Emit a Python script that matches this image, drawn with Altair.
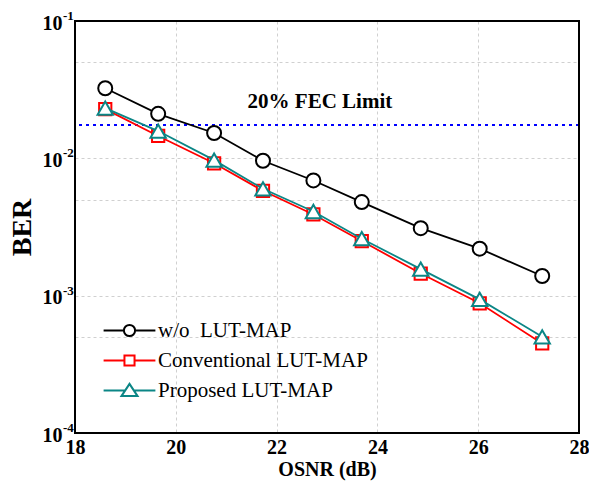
import altair as alt
import pandas as pd

# ---------------- data ----------------
osnr = [18.6, 19.65, 20.76, 21.73, 22.73, 23.69, 24.86, 26.03, 27.27]
ber_wo = [0.0324, 0.0211, 0.0153, 0.0096, 0.0069, 0.0048, 0.0031, 0.0022, 0.00139]
ber_conv = [0.0228, 0.01455, 0.0092, 0.0058, 0.0039, 0.0025, 0.00145, 0.00088, 0.000449]
ber_prop = [0.0232, 0.0158, 0.0097, 0.0060, 0.0041, 0.0026, 0.00156, 0.00094, 0.000502]
series_names = ["w/o\u00a0 LUT-MAP", "Conventional LUT-MAP", "Proposed LUT-MAP"]

fec_level = [0.0175]
fec_label = ["20% FEC Limit"]
fec_label_x = [22.86]
fec_label_y = [0.0257]

x_ticks = [18, 20, 22, 24, 26, 28]
y_decades = [0.1, 0.01, 0.001, 0.0001]
y_exps = ["-1", "-2", "-3", "-4"]
y_grid = [0.0001, 0.0005, 0.001, 0.005, 0.01, 0.05, 0.1]

# ---------------- styles ----------------
colors = ["#000000", "#ff0000", "#0b8686"]
shapes = ["circle", "square", "triangle-up"]
sizes = [196, 150, 235]
legend_paths = [
    "M-3.7,0H-0.8M0.8,0H3.7M0.8,0A0.8,0.8,0,1,1,-0.8,0A0.8,0.8,0,1,1,0.8,0Z",
    "M-3.7,0H-0.72M0.72,0H3.7M-0.72,-0.72H0.72V0.72H-0.72Z",
    "M-3.7,0H-0.62M0.62,0H3.7M0,-0.95L1.15,0.8L-1.15,0.8Z",
]
FONT = "Liberation Serif"

rows = []
for name, vals in zip(series_names, [ber_wo, ber_conv, ber_prop]):
    for xv, yv in zip(osnr, vals):
        rows.append({"osnr": xv, "ber": yv, "series": name})
df = pd.DataFrame(rows)

x_enc = alt.X(
    "osnr:Q",
    scale=alt.Scale(domain=[18, 28], nice=False),
    axis=alt.Axis(values=x_ticks, title="OSNR (dB)", grid=True, format="d",
                  labelPadding=4, titlePadding=2, titleFontSize=20,
                  labelFlush=False, labelOverlap=False),
)
y_enc = alt.Y(
    "ber:Q",
    scale=alt.Scale(type="log", domain=[0.0001, 0.1], nice=False),
    axis=alt.Axis(
        values=y_grid,
        labelExpr="abs(log(datum.value)/LN10 - round(log(datum.value)/LN10)) < 1e-6 ? '10' : ''",
        title="BER", grid=True, labelPadding=13, labelOffset=2,
        titleFontSize=28, titlePadding=6, labelFlush=False, labelOverlap=False,
    ),
)

layers = []
for name, c, shp, sz in zip(series_names, colors, shapes, sizes):
    sub = alt.Chart(df).transform_filter(alt.datum.series == name)
    layers.append(sub.mark_line(color=c, strokeWidth=1.8).encode(x=x_enc, y=y_enc))
    layers.append(
        sub.mark_point(shape=shp, size=sz, filled=True, fill="white", stroke=c,
                       strokeWidth=2, opacity=1).encode(x=x_enc, y=y_enc)
    )

# FEC line and label
fec_df = pd.DataFrame({"ber": fec_level})
fec_rule = alt.Chart(fec_df).mark_rule(color="#0000ff", strokeDash=[3, 4], strokeWidth=2).encode(y=y_enc)
fec_txt_df = pd.DataFrame({"osnr": fec_label_x, "ber": fec_label_y, "t": fec_label})
fec_text = alt.Chart(fec_txt_df).mark_text(
    font=FONT, fontSize=21, fontWeight="bold", align="center", baseline="middle", color="black"
).encode(x=x_enc, y=y_enc, text="t:N")

# exponents of y tick labels
exp_df = pd.DataFrame({"osnr": [x_ticks[0]] * len(y_decades), "ber": y_decades, "t": y_exps})
exp_text = alt.Chart(exp_df).mark_text(
    font=FONT, fontSize=13, fontWeight="bold", align="left", baseline="middle",
    dx=-12, dy=-5, color="black",
).encode(x=x_enc, y=y_enc, text="t:N")

# plot frame drawn on top of the grid
frame = alt.Chart(exp_df.head(1)).mark_rect(
    filled=False, stroke="black", strokeWidth=2, fill=None
).encode(
    x=alt.datum(x_ticks[0]), x2=alt.datum(x_ticks[-1]),
    y=alt.datum(y_decades[-1]), y2=alt.datum(y_decades[0]),
)

# legend (scale-driven, no visible data)
leg = alt.Legend(
    title=None, orient="none", legendX=44, legendY=299, symbolSize=196,
    symbolStrokeWidth=2, labelFont=FONT, labelFontSize=21, labelOffset=18,
    rowPadding=8, padding=0, labelColor="black", labelLimit=400, symbolOpacity=1,
)
legend_layer = alt.Chart(df).transform_filter("false").mark_point(
    filled=False, size=196, strokeWidth=2, opacity=1
).encode(
    x=x_enc, y=y_enc,
    color=alt.Color("series:N", scale=alt.Scale(domain=series_names, range=colors), legend=leg),
    shape=alt.Shape("series:N", scale=alt.Scale(domain=series_names, range=legend_paths), legend=leg),
)

chart = alt.layer(fec_rule, *layers, fec_text, exp_text, frame, legend_layer).properties(
    width=504, height=412,
    autosize=alt.AutoSizeParams(type="none"),
    padding={"left": 75, "top": 21, "right": 10, "bottom": 49},
    background="white",
).configure_view(
    strokeWidth=0
).configure_axis(
    domain=False, ticks=False, gridColor="#d0d0d0", gridDash=[3, 3], gridWidth=1,
    labelFont=FONT, labelFontWeight="bold", labelFontSize=20, labelColor="black",
    titleFont=FONT, titleFontWeight="bold", titleColor="black",
)

chart.save("out.html", embed_options={"renderer": "svg", "actions": False})
